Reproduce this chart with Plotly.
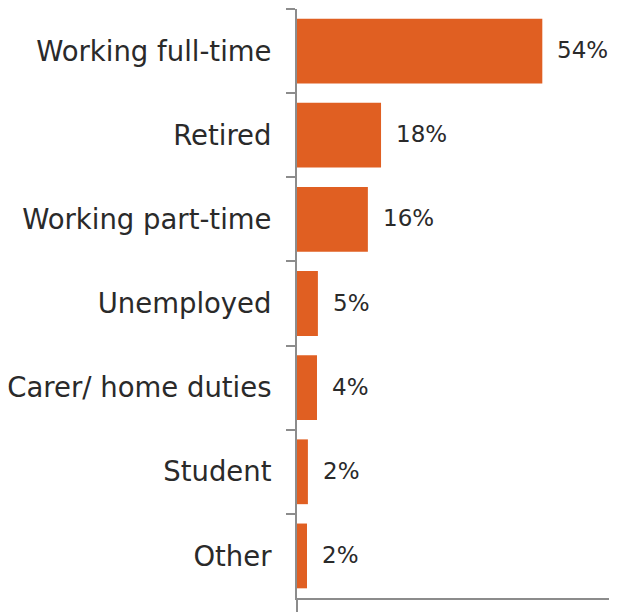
import plotly.graph_objs as go

# employment status share (%), top to bottom
statuses = [
    "Working full-time",
    "Retired",
    "Working part-time",
    "Unemployed",
    "Carer/ home duties",
    "Student",
    "Other",
]
shares = [54, 18.5, 15.6, 4.6, 4.4, 2.4, 2.2]
share_labels = ["54%", "18%", "16%", "5%", "4%", "2%", "2%"]

bar_color = "#E05F22"
axis_color = "#8c8c8c"
text_color = "#2a2a2a"
font_family = "'DejaVu Sans', sans-serif"

fig = go.Figure(
    go.Bar(
        x=shares,
        y=statuses,
        orientation="h",
        marker=dict(color=bar_color, line=dict(width=0)),
        hoverinfo="none",
    )
)

# value labels a little to the right of each bar end
annotations = []
for s, v, lab in zip(statuses, shares, share_labels):
    annotations.append(
        dict(
            x=v,
            y=s,
            xref="x",
            yref="y",
            text=lab,
            showarrow=False,
            xanchor="left",
            yanchor="middle",
            xshift=13,
            yshift=1,
            font=dict(family=font_family, size=23, color=text_color),
        )
    )

# page body adds an 8px margin, so the figure is sized to fit inside it
fig.update_layout(
    width=609,
    height=604,
    margin=dict(l=289, r=2, t=1, b=14),
    paper_bgcolor="white",
    plot_bgcolor="white",
    showlegend=False,
    bargap=0.23,
    annotations=annotations,
    xaxis=dict(
        range=[0, 70],
        automargin=False,
        showgrid=False,
        zeroline=False,
        showline=True,
        linecolor=axis_color,
        linewidth=2,
        ticks="outside",
        tickvals=[0],
        ticklen=14,
        tickwidth=2,
        tickcolor=axis_color,
        showticklabels=False,
    ),
    yaxis=dict(
        autorange="reversed",
        automargin=False,
        showgrid=False,
        zeroline=False,
        showline=True,
        linecolor=axis_color,
        linewidth=2,
        ticks="outside",
        tickson="boundaries",
        ticklen=9,
        tickwidth=2,
        tickcolor=axis_color,
        ticklabelstandoff=18,
        tickfont=dict(family=font_family, size=27.5, color=text_color),
    ),
)

fig.write_html("out.html")
